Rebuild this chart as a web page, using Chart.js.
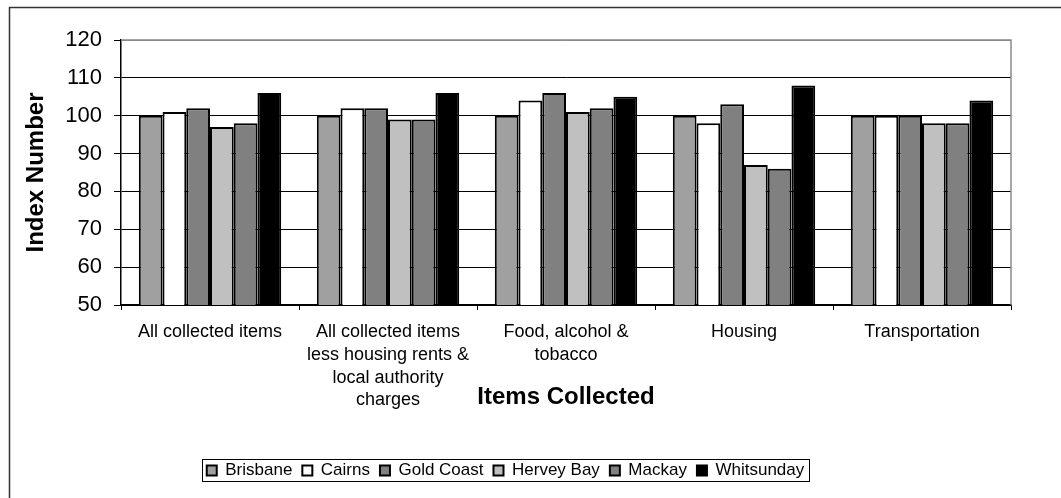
<!DOCTYPE html>
<html>
<head>
<meta charset="utf-8">
<script src="https://cdn.jsdelivr.net/npm/chart.js@4/dist/chart.umd.min.js"></script>
<style>
  html, body { margin: 0; padding: 0; background: #fff; }
  #wrap { width: 1061px; height: 498px; position: relative; }
</style>
</head>
<body>
<div id="wrap"><canvas id="chart" width="1061" height="498"></canvas></div>
<script>
// categories on the x axis (multi-line labels as arrays)
const categories = [
  'All collected items',
  ['All collected items', 'less housing rents &', 'local authority', 'charges'],
  ['Food, alcohol &', 'tobacco'],
  'Housing',
  'Transportation'
];

// index numbers per region
const brisbane   = [100, 100, 100, 100, 100];
const cairns     = [101, 102, 104,  98, 100];
const goldCoast  = [102, 102, 106, 103, 100];
const herveyBay  = [ 97,  99, 101,  87,  98];
const mackay     = [ 98,  99, 102,  86,  98];
const whitsunday = [106, 106, 105, 108, 104];

const yTicks = [50, 60, 70, 80, 90, 100, 110, 120];

const FONT = '"Liberation Sans", Arial, Helvetica, sans-serif';

function series(label, data, color) {
  return {
    label,
    data,
    backgroundColor: color,
    borderColor: '#000',
    borderWidth: 2,
    borderSkipped: false,
    categoryPercentage: 0.8,
    barPercentage: 1.0,
  };
}

// frame lines, right/top plot edge, and the box round the legend
const decorations = {
  id: 'decorations',
  beforeDraw(chart) {
    const ctx = chart.ctx;
    ctx.save();
    ctx.strokeStyle = '#333';
    ctx.lineWidth = 1.5;
    ctx.beginPath();
    ctx.moveTo(9.5, chart.height);
    ctx.lineTo(9.5, 7.5);
    ctx.lineTo(chart.width, 7.5);
    ctx.stroke();
    ctx.restore();
  },
  afterDatasetsDraw(chart) {
    const { ctx, chartArea: a } = chart;
    ctx.save();
    ctx.strokeStyle = '#8a8a8a';
    ctx.lineWidth = 1.5;
    ctx.beginPath();
    ctx.moveTo(a.left, a.top);
    ctx.lineTo(a.right, a.top);
    ctx.lineTo(a.right, a.bottom);
    ctx.stroke();
    ctx.restore();
  },
  afterDraw(chart) {
    const boxes = chart.legend && chart.legend.legendHitBoxes;
    if (!boxes || !boxes.length) return;
    const left = Math.min(...boxes.map(b => b.left)) - 5;
    const right = Math.max(...boxes.map(b => b.left + b.width)) + 4;
    const top = Math.min(...boxes.map(b => b.top)) - 3;
    const bottom = Math.max(...boxes.map(b => b.top + b.height)) + 2;
    const ctx = chart.ctx;
    ctx.save();
    ctx.strokeStyle = '#000';
    ctx.lineWidth = 1;
    ctx.strokeRect(Math.round(left) + 0.5, Math.round(top) + 0.5,
                   Math.round(right - left), Math.round(bottom - top));
    ctx.restore();
  }
};

new Chart(document.getElementById('chart').getContext('2d'), {
  type: 'bar',
  data: {
    labels: categories,
    datasets: [
      series('Brisbane', brisbane, '#a0a0a0'),
      series('Cairns', cairns, '#ffffff'),
      series('Gold Coast', goldCoast, '#808080'),
      series('Hervey Bay', herveyBay, '#c0c0c0'),
      series('Mackay', mackay, '#808080'),
      series('Whitsunday', whitsunday, '#000000'),
    ],
  },
  options: {
    responsive: false,
    animation: false,
    layout: { padding: { top: 40, right: 50, left: 0, bottom: 9 } },
    plugins: {
      tooltip: { enabled: false },
      title: { display: false },
      legend: {
        position: 'bottom',
        labels: {
          color: '#000',
          font: { family: FONT, size: 17 },
          boxWidth: 10,
          boxHeight: 10,
          padding: 10,
        },
      },
    },
    scales: {
      x: {
        afterFit(scale) { scale.height = 147; },
        grid: {
          offset: true,
          drawOnChartArea: false,
          drawTicks: true,
          tickLength: 5,
          color: '#000',
        },
        border: { display: true, color: '#000', width: 1.5 },
        ticks: {
          color: '#000',
          font: { family: FONT, size: 18, lineHeight: 1.26 },
          maxRotation: 0,
          autoSkip: false,
          padding: 11,
        },
        title: {
          display: true,
          text: 'Items Collected',
          color: '#000',
          font: { family: FONT, size: 24, weight: 'bold' },
          padding: { top: 0, bottom: 40 },
        },
      },
      y: {
        min: 50,
        max: 120,
        afterFit(scale) { scale.width = 121; },
        afterBuildTicks(scale) { scale.ticks = yTicks.map(v => ({ value: v })); },
        grid: {
          color: c => (c.tick && c.tick.value === 120 ? '#8a8a8a' : '#000'),
          tickColor: '#000',
          lineWidth: 1,
          tickLength: 7,
        },
        border: { display: true, color: '#000', width: 1.5 },
        ticks: {
          color: '#000',
          font: { family: FONT, size: 22 },
          padding: 12,
        },
        title: {
          display: true,
          text: 'Index Number',
          color: '#000',
          font: { family: FONT, size: 24, weight: 'bold' },
          padding: { top: 22, bottom: 0 },
        },
      },
    },
  },
  plugins: [decorations],
});
</script>
</body>
</html>
